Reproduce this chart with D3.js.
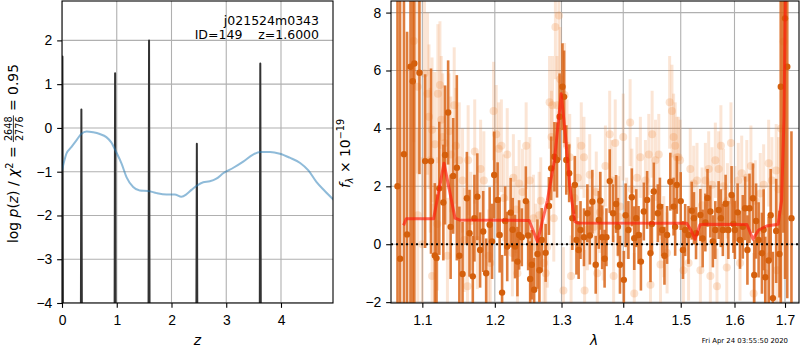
<!DOCTYPE html>
<html>
<head>
<meta charset="utf-8">
<script src="https://cdn.jsdelivr.net/npm/d3@7"></script>
<style>
body { margin: 0; background: #fff; }
svg { display: block; font-family: "DejaVu Sans", sans-serif; }
.tick text { font-size: 13.9px; fill: #000; }
.tick line { stroke: #000; stroke-width: 1.1; }
.domain { display: none; }
</style>
</head>
<body>
<div id="chart"></div>
<script>
// ---- left panel: p(z) ----
const zTicks = [0, 1, 2, 3, 4];
const logpTicks = [-4, -3, -2, -1, 0, 1, 2];
// narrow peaks of the fit, [z, log p]
const peaks = [[0.008, 1.63], [0.354, 0.42], [0.97, 1.25], [1.59, 2.0], [2.463, -0.36], [3.622, 1.47]];
// smooth prior curve, [z, log p]
const priorCurve = [
  [0, -0.97], [0.08, -0.59], [0.17, -0.44], [0.26, -0.29], [0.35, -0.14], [0.45, -0.08],
  [0.57, -0.10], [0.69, -0.14], [0.81, -0.21], [0.90, -0.33], [0.99, -0.55], [1.09, -0.82],
  [1.18, -1.13], [1.30, -1.35], [1.42, -1.43], [1.57, -1.44], [1.73, -1.49], [1.91, -1.52],
  [2.06, -1.52], [2.18, -1.57], [2.27, -1.52], [2.37, -1.41], [2.46, -1.32], [2.58, -1.24],
  [2.70, -1.22], [2.82, -1.16], [2.95, -1.03], [3.13, -0.91], [3.31, -0.77], [3.49, -0.61],
  [3.62, -0.55], [3.80, -0.55], [3.98, -0.59], [4.16, -0.68], [4.35, -0.80], [4.50, -0.97],
  [4.65, -1.24], [4.80, -1.44], [4.96, -1.64]
];

// ---- right panel: spectrum ----
const lamTicks = [1.1, 1.2, 1.3, 1.4, 1.5, 1.6, 1.7];
const fluxTicks = [-2, 0, 2, 4, 6, 8];
// main spectrum, [lambda, flux, err]
const darkPoints = [
  [1.0677, 2.0, 12], [1.071, -0.5, 11], [1.076, 3.11, 9], [1.080, 0.34, 7], [1.0845, 6.13, 9],
  [1.0874, 5.63, 8], [1.0895, 6.24, 9], [1.0962, 5.92, 3.5], [1.1037, 2.87, 3], [1.1115, 2.87, 3.2],
  [1.1166, -0.39, 2.5], [1.1189, -0.48, 2.2], [1.1226, 1.93, 2.3], [1.1281, 1.44, 2.0], [1.1304, 3.08, 2.4],
  [1.1346, 4.55, 1.8], [1.1415, 2.36, 2.0], [1.1465, 2.64, 3.2], [1.1544, -1.03, 1.8], [1.1604, 1.59, 1.6],
  [1.1641, 0.38, 1.5], [1.1687, -1.11, 1.4], [1.1751, 1.64, 1.5], [1.1834, 0.44, 1.4], [1.1876, -1.0, 1.2],
  [1.1926, 0.67, 1.3], [1.1991, 2.39, 1.5], [1.204, 1.53, 1.3], [1.207, 0.32, 1.3], [1.2105, -1.67, 1.3],
  [1.218, -0.08, 1.2], [1.223, 1.09, 1.2], [1.2295, -0.08, 1.1], [1.2355, 0.32, 1.2], [1.2395, 0.24, 1.0],
  [1.2455, 1.49, 1.2], [1.252, -1.20, 1.3], [1.2545, -0.71, 1.2], [1.258, -1.57, 1.1], [1.263, -0.34, 1.2],
  [1.2695, 0.15, 1.1], [1.2755, -0.3, 1.0], [1.2805, 1.32, 1.0], [1.284, 2.62, 1.1], [1.289, 3.02, 1.2],
  [1.293, 2.91, 1.3], [1.297, 4.40, 1.5], [1.3015, 5.44, 1.5], [1.304, 5.09, 1.6], [1.3075, 2.91, 1.2],
  [1.312, 2.45, 1.0], [1.321, 2.05, 1.0], [1.3235, 0.15, 1.2], [1.330, 0.49, 1.0], [1.3355, 0.24, 1.0],
  [1.341, 1.07, 1.0], [1.349, 1.47, 1.1], [1.3545, -0.71, 1.0], [1.3595, 0.84, 1.0], [1.365, 0.24, 1.1],
  [1.372, 0.24, 1.0], [1.3775, 2.18, 1.1], [1.383, 1.07, 1.0], [1.388, 1.39, 1.0], [1.3945, -0.71, 1.0],
  [1.401, -1.23, 1.0], [1.4087, 0.49, 1.0], [1.4145, 1.62, 1.0], [1.4186, 0.21, 1.1], [1.426, 0.32, 1.0],
  [1.435, 1.13, 1.0], [1.4407, 1.53, 1.0], [1.4465, -0.31, 1.0], [1.4523, 1.82, 1.0], [1.4593, 1.07, 1.0],
  [1.467, 0.49, 0.9], [1.4756, 0.32, 1.0], [1.4814, 2.16, 1.0], [1.4872, 1.30, 1.0], [1.493, 2.05, 1.0],
  [1.5, 1.49, 1.0], [1.508, 0.49, 0.9], [1.514, 0.32, 1.0], [1.520, 1.16, 1.0], [1.5278, 0.38, 0.9],
  [1.5358, 1.01, 0.9], [1.545, 0.75, 1.0], [1.5543, 1.13, 0.9], [1.5636, 0.49, 1.0], [1.5698, 1.18, 1.0],
  [1.5778, 0.49, 0.9], [1.5883, 0.49, 1.0], [1.5944, 1.70, 1.0], [1.6007, 0.49, 1.0], [1.6106, 0.15, 1.0],
  [1.6205, 1.24, 1.1], [1.6291, 1.24, 1.2], [1.6358, 1.59, 1.2], [1.6384, -1.06, 1.2], [1.647, 0.15, 1.3],
  [1.6536, -0.31, 1.4], [1.6603, -1.14, 1.4], [1.667, -0.56, 1.5], [1.6755, -1.86, 1.6], [1.6821, 0.46, 1.8],
  [1.6887, -0.34, 1.5], [1.6914, 5.44, 8], [1.6967, 9.0, 8.6], [1.7, 7.8, 9], [1.7046, 6.13, 8],
  [1.7132, 0.9, 3.0],
  [1.138, 0.6, 1.8], [1.150, -0.4, 1.7], [1.171, 0.9, 1.5], [1.179, -0.2, 1.3], [1.196, 0.1, 1.3],
  [1.215, 0.8, 1.2], [1.226, 0.5, 1.1], [1.233, -0.6, 1.2], [1.249, 0.3, 1.2], [1.266, -0.9, 1.1],
  [1.317, 0.9, 1.1], [1.327, -0.2, 1.0], [1.345, 0.3, 1.0], [1.362, 1.5, 1.0], [1.369, -0.5, 1.0],
  [1.391, 0.6, 1.0], [1.404, 1.0, 1.1], [1.422, 0.9, 1.0], [1.430, -0.6, 1.0], [1.449, 0.7, 1.0],
  [1.463, 1.3, 1.0], [1.471, -0.4, 1.0], [1.490, 0.6, 1.0], [1.504, -0.2, 1.0], [1.524, 0.9, 0.9],
  [1.540, 0.2, 1.0], [1.549, 1.6, 1.0], [1.559, 0.1, 0.9], [1.574, 0.9, 1.0], [1.583, 1.4, 1.0],
  [1.598, 0.7, 1.0], [1.606, 1.1, 1.0], [1.616, 0.6, 1.1], [1.625, -0.2, 1.2], [1.642, 0.8, 1.3],
  [1.657, 0.5, 1.4], [1.671, 1.0, 1.6]
];
// second (faint) spectrum, [lambda, flux, err]
const lightPoints = [
  [1.0887, 7.02, 3.5], [1.0937, 5.44, 3], [1.094, 1.0, 3], [1.100, 0.0, 3], [1.1028, 5.9, 3],
  [1.1069, 5.2, 2.8], [1.1088, 4.4, 2.5], [1.1106, 2.9, 2.5], [1.1129, 3.95, 2.5], [1.113, -1.1, 2.5],
  [1.1166, 3.45, 2.5], [1.12, 0.7, 2.3], [1.1207, 5.2, 2.4], [1.1235, 5.5, 2.2], [1.1253, 4.3, 2.2],
  [1.1272, 3.7, 2.2], [1.13, 3.5, 2.0], [1.1336, -0.4, 2.0], [1.1359, 3.9, 2.0], [1.1382, 3.1, 2.0],
  [1.1429, 4.8, 2.0], [1.1452, 3.4, 2.0], [1.1498, 2.9, 2.0], [1.1544, 2.2, 1.8], [1.1567, 0.15, 1.8],
  [1.1613, -1.45, 1.7], [1.1622, 2.9, 1.9], [1.1659, 0.8, 1.7], [1.1714, 3.2, 1.8], [1.1751, 0.15, 1.7],
  [1.1797, 2.6, 1.7], [1.1843, 2.2, 1.7], [1.1912, -0.4, 1.6], [1.1935, -0.65, 1.6], [1.1982, 4.6, 1.7],
  [1.202, 3.8, 1.7], [1.2055, 3.3, 1.6], [1.2095, 3.4, 1.6], [1.213, 1.6, 1.5], [1.218, 3.1, 1.6],
  [1.2255, -0.3, 1.5], [1.227, 2.3, 1.5], [1.231, 1.2, 1.5], [1.233, -1.0, 1.5], [1.2355, 2.1, 1.5],
  [1.2405, 1.8, 1.5], [1.246, 3.4, 1.5], [1.2515, 2.2, 1.5], [1.253, -0.65, 1.5], [1.257, 0.9, 1.5],
  [1.2605, -0.1, 1.5], [1.2655, 1.0, 1.5], [1.268, 1.5, 1.5], [1.273, -0.65, 1.4], [1.2755, -1.0, 1.4],
  [1.278, -0.1, 1.4], [1.2815, 4.9, 1.6], [1.2845, 3.7, 1.6], [1.286, 4.8, 1.7], [1.288, 0.9, 1.5],
  [1.2905, 7.5, 1.8], [1.293, 4.8, 1.7], [1.296, 7.9, 2.0], [1.298, 5.7, 1.8], [1.303, -1.6, 1.5],
  [1.3048, 5.15, 1.8], [1.3086, 3.4, 1.6], [1.3129, 3.0, 1.5], [1.315, -1.1, 1.4], [1.3204, 1.6, 1.4],
  [1.3258, 2.3, 1.4], [1.3312, 3.4, 1.5], [1.3355, 3.0, 1.4], [1.3366, -1.6, 1.4], [1.341, 0.5, 1.4],
  [1.3448, 2.4, 1.4], [1.3516, 0.6, 1.4], [1.3554, 1.8, 1.4], [1.357, -1.0, 1.4], [1.3613, 1.1, 1.4],
  [1.3667, 0.15, 1.4], [1.3704, 2.7, 1.4], [1.3774, 3.8, 1.5], [1.3812, 2.2, 1.4], [1.3839, -1.1, 1.4],
  [1.3866, 3.5, 1.5], [1.3919, 0.95, 1.4], [1.3946, 1.3, 1.4], [1.4, 3.7, 1.5], [1.4058, 0.9, 1.4],
  [1.4116, 4.2, 1.5], [1.4145, 1.9, 1.4], [1.4186, -1.7, 1.4], [1.4233, 2.3, 1.4], [1.4291, 3.0, 1.4],
  [1.4378, 2.2, 1.4], [1.4436, 3.1, 1.4], [1.4465, -1.4, 1.4], [1.4494, 3.8, 1.5], [1.4552, 2.9, 1.4],
  [1.461, 3.1, 1.4], [1.464, -0.7, 1.4], [1.4698, 0.26, 1.4], [1.4756, -0.3, 1.4], [1.4802, 4.9, 1.6],
  [1.4843, 4.6, 1.6], [1.4872, 3.7, 1.5], [1.4901, 3.4, 1.5], [1.493, 3.0, 1.4], [1.4959, 3.0, 1.4],
  [1.4988, 2.9, 1.4], [1.5049, -0.9, 1.3], [1.5142, -0.65, 1.3], [1.5173, 2.6, 1.4], [1.5235, 2.1, 1.3],
  [1.5296, 2.2, 1.3], [1.5358, -0.9, 1.3], [1.5389, 1.35, 1.3], [1.5451, 2.2, 1.3], [1.5512, 2.6, 1.3],
  [1.5543, -1.1, 1.3], [1.5574, 2.05, 1.3], [1.5636, 2.9, 1.3], [1.5667, -1.45, 1.3], [1.5698, 2.6, 1.3],
  [1.5741, 3.4, 1.4], [1.579, 2.0, 1.3], [1.5852, -0.8, 1.3], [1.5864, 1.5, 1.3], [1.5932, 3.5, 1.4],
  [1.6007, 1.4, 1.3], [1.6073, 2.2, 1.3], [1.6106, -0.65, 1.3], [1.6139, 2.45, 1.3], [1.6238, 2.3, 1.3],
  [1.6318, 2.7, 1.4], [1.6371, -1.7, 1.4], [1.6404, 1.5, 1.4], [1.6503, 1.75, 1.4], [1.657, 2.05, 1.4],
  [1.6603, -1.0, 1.4], [1.667, 2.8, 1.5], [1.6702, -0.4, 1.5], [1.6735, 2.2, 1.5], [1.6821, 2.55, 1.6],
  [1.6834, -0.9, 1.6], [1.6867, 1.9, 1.8], [1.692, 4.0, 6], [1.697, 7.0, 6]
];
// best-fit template, [lambda, flux]
const modelLine = [
  [1.0755, 0.65], [1.079, 0.88], [1.115, 0.88], [1.129, 2.8], [1.144, 0.9], [1.15, 0.84],
  [1.2505, 0.82], [1.263, 0.09], [1.278, 1.5], [1.289, 2.9], [1.2995, 5.2], [1.306, 3.8],
  [1.313, 2.0], [1.321, 0.78], [1.326, 0.73], [1.511, 0.72], [1.518, 0.5], [1.526, 0.17],
  [1.535, 0.67], [1.545, 0.69], [1.624, 0.68], [1.636, 0.17], [1.647, 0.49], [1.663, 0.63],
  [1.686, 0.69], [1.693, 1.5], [1.698, 4.4], [1.701, 9], [1.705, 14]
];

const fmtInt = d3.format('d');
const fmtLam = d3.format('.1f');

const W = 800, H = 350;
const left = {x0: 62, x1: 333, y0: 1, y1: 303};
const right = {x0: 391, x1: 799, y0: 1, y1: 303};
const tickLen = 4.86;
const gridColor = '#b0b0b0';

const $svg = d3.select('#chart').append('svg').attr('width', W).attr('height', H);
const $defs = $svg.append('defs');
[['clipL', left], ['clipR', right]].forEach(([id, p]) => {
	$defs.append('clipPath').attr('id', id).append('rect')
		.attr('x', p.x0).attr('y', p.y0).attr('width', p.x1 - p.x0).attr('height', p.y1 - p.y0);
});

// scales
const scaleZ = d3.scaleLinear().domain([0, 4.95]).range([left.x0, left.x1]);
const scaleLogp = d3.scaleLinear().domain([-4, 2.9]).range([left.y1, left.y0]);
const scaleLam = d3.scaleLog().domain([1.0594, 1.7288]).range([right.x0, right.x1]);
const scaleFlux = d3.scaleLinear().domain([-2.03, 8.4]).range([right.y1, right.y0]);

function drawGrid($g, sx, sy, xt, yt, p) {
	$g.selectAll('.gx').data(xt).enter().append('line')
		.attr('x1', d => sx(d)).attr('x2', d => sx(d)).attr('y1', p.y0).attr('y2', p.y1)
		.attr('stroke', gridColor).attr('stroke-width', 1.1);
	$g.selectAll('.gy').data(yt).enter().append('line')
		.attr('y1', d => sy(d)).attr('y2', d => sy(d)).attr('x1', p.x0).attr('x2', p.x1)
		.attr('stroke', gridColor).attr('stroke-width', 1.1);
}

function drawAxes(sx, sy, xt, yt, fx, fy, p) {
	$svg.append('g').attr('transform', `translate(0,${p.y1})`)
		.call(d3.axisBottom(sx).tickValues(xt).tickFormat(fx).tickSize(tickLen).tickPadding(7));
	$svg.append('g').attr('transform', `translate(${p.x0},0)`)
		.call(d3.axisLeft(sy).tickValues(yt).tickFormat(fy).tickSize(tickLen).tickPadding(4.9));
	$svg.append('rect').attr('x', p.x0).attr('y', p.y0)
		.attr('width', p.x1 - p.x0).attr('height', p.y1 - p.y0)
		.attr('fill', 'none').attr('stroke', '#000').attr('stroke-width', 1.1);
}

// ---------- left panel ----------
const $left = $svg.append('g').attr('clip-path', 'url(#clipL)');
drawGrid($left, scaleZ, scaleLogp, zTicks, logpTicks, left);

const spikeLine = d3.line().x(d => scaleZ(d[0])).y(d => scaleLogp(d[1]));
$left.selectAll('.spike').data(peaks).enter().append('path')
	.attr('d', d => spikeLine([[d[0] - 0.012, -6], [d[0], d[1]], [d[0] + 0.012, -6]]))
	.attr('fill', 'none').attr('stroke', '#333').attr('stroke-width', 2).attr('stroke-linejoin', 'round');

$left.append('path').datum(priorCurve)
	.attr('d', d3.line().x(d => scaleZ(d[0])).y(d => scaleLogp(d[1])).curve(d3.curveMonotoneX))
	.attr('fill', 'none').attr('stroke', '#1f77b4').attr('stroke-opacity', 0.5).attr('stroke-width', 2);

drawAxes(scaleZ, scaleLogp, zTicks, logpTicks, fmtInt, fmtInt, left);

// id / redshift annotation
const $ann = $svg.append('g').attr('font-size', 12.5).attr('text-anchor', 'end');
$ann.append('text').attr('x', 319).attr('y', 25).text('j021524m0343');
$ann.append('text').attr('x', 319).attr('y', 39).text('ID=149\u00a0\u00a0\u00a0\u00a0z=1.6000');

// x label
$svg.append('text').attr('x', 197.5).attr('y', 345).attr('text-anchor', 'middle')
	.attr('font-size', 13.9).attr('font-style', 'italic').text('z');

// y label with the chi2 fraction
const $yl = $svg.append('g').attr('transform', 'translate(18,153.5) rotate(-90)').attr('font-size', 13.9);
const $t1 = $yl.append('text');
$t1.append('tspan').text('log\u00a0');
$t1.append('tspan').attr('font-style', 'italic').text('p');
$t1.append('tspan').text('(');
$t1.append('tspan').attr('font-style', 'italic').text('z');
$t1.append('tspan').text(')\u00a0/\u00a0');
$t1.append('tspan').attr('font-style', 'italic').text('χ');
$t1.append('tspan').attr('font-size', 9.7).attr('dy', -5.5).text('2');
$t1.append('tspan').attr('dy', 5.5).text('\u00a0=\u00a0');
const $num = $yl.append('text').attr('font-size', 9.7).attr('text-anchor', 'middle').text('2648');
const $den = $yl.append('text').attr('font-size', 9.7).attr('text-anchor', 'middle').text('2776');
const $bar = $yl.append('line').attr('stroke', '#000').attr('stroke-width', 0.8);
const $t3 = $yl.append('text').text('\u00a0=\u00a00.95');

const w1 = $t1.node().getComputedTextLength();
const wf = Math.max($num.node().getComputedTextLength(), $den.node().getComputedTextLength()) + 2;
const w3 = $t3.node().getComputedTextLength();
const total = w1 + wf + w3;
const x0 = -total / 2;
$t1.attr('x', x0);
$num.attr('x', x0 + w1 + wf / 2).attr('y', -6.5);
$den.attr('x', x0 + w1 + wf / 2).attr('y', 4.5);
$bar.attr('x1', x0 + w1).attr('x2', x0 + w1 + wf).attr('y1', -4.6).attr('y2', -4.6);
$t3.attr('x', x0 + w1 + wf);

// ---------- right panel ----------
const $right = $svg.append('g').attr('clip-path', 'url(#clipR)');
drawGrid($right, scaleLam, scaleFlux, lamTicks, fluxTicks, right);

const orange = '#d9661a';

// faint spectrum
$right.selectAll('.lbar').data(lightPoints).enter().append('line')
	.attr('x1', d => scaleLam(d[0])).attr('x2', d => scaleLam(d[0]))
	.attr('y1', d => scaleFlux(d[1] - d[2])).attr('y2', d => scaleFlux(d[1] + d[2]))
	.attr('stroke', '#ee8a40').attr('stroke-opacity', 0.22).attr('stroke-width', 3);
$right.selectAll('.lpt').data(lightPoints).enter().append('circle')
	.attr('cx', d => scaleLam(d[0])).attr('cy', d => scaleFlux(d[1])).attr('r', 4)
	.attr('fill', '#ee8a40').attr('fill-opacity', 0.25);

// main spectrum
$right.selectAll('.dbar').data(darkPoints).enter().append('line')
	.attr('x1', d => scaleLam(d[0])).attr('x2', d => scaleLam(d[0]))
	.attr('y1', d => scaleFlux(d[1] - d[2])).attr('y2', d => scaleFlux(d[1] + d[2]))
	.attr('stroke', orange).attr('stroke-opacity', 0.85).attr('stroke-width', 2.6);
$right.selectAll('.dpt').data(darkPoints).enter().append('circle')
	.attr('cx', d => scaleLam(d[0])).attr('cy', d => scaleFlux(d[1])).attr('r', 3.2)
	.attr('fill', '#d45f0c');

// model
$right.append('path').datum(modelLine)
	.attr('d', d3.line().x(d => scaleLam(d[0])).y(d => scaleFlux(d[1])))
	.attr('fill', 'none').attr('stroke', '#ff1a0a').attr('stroke-opacity', 0.65)
	.attr('stroke-width', 3).attr('stroke-linejoin', 'round');

// zero line
$right.append('line')
	.attr('x1', right.x0).attr('x2', right.x1).attr('y1', scaleFlux(0)).attr('y2', scaleFlux(0))
	.attr('stroke', '#000').attr('stroke-width', 2).attr('stroke-dasharray', '2,3');

drawAxes(scaleLam, scaleFlux, lamTicks, fluxTicks, fmtLam, fmtInt, right);

$svg.append('text').attr('x', 594).attr('y', 345).attr('text-anchor', 'middle')
	.attr('font-size', 13.9).attr('font-style', 'italic').text('λ');

const $yr = $svg.append('text').attr('transform', 'translate(350,153.5) rotate(-90)')
	.attr('text-anchor', 'middle').attr('font-size', 13.9);
$yr.append('tspan').attr('font-style', 'italic').text('f');
$yr.append('tspan').attr('font-size', 9.7).attr('font-style', 'italic').attr('dy', 3).text('λ');
$yr.append('tspan').attr('dy', -3).text('\u00a0×\u00a010');
$yr.append('tspan').attr('font-size', 9.7).attr('dy', -6).text('−19');

// timestamp
$svg.append('text').attr('x', 788).attr('y', 343).attr('text-anchor', 'end')
	.attr('font-size', 6.9).text('Fri Apr 24 03:55:50 2020');
</script>
</body>
</html>
